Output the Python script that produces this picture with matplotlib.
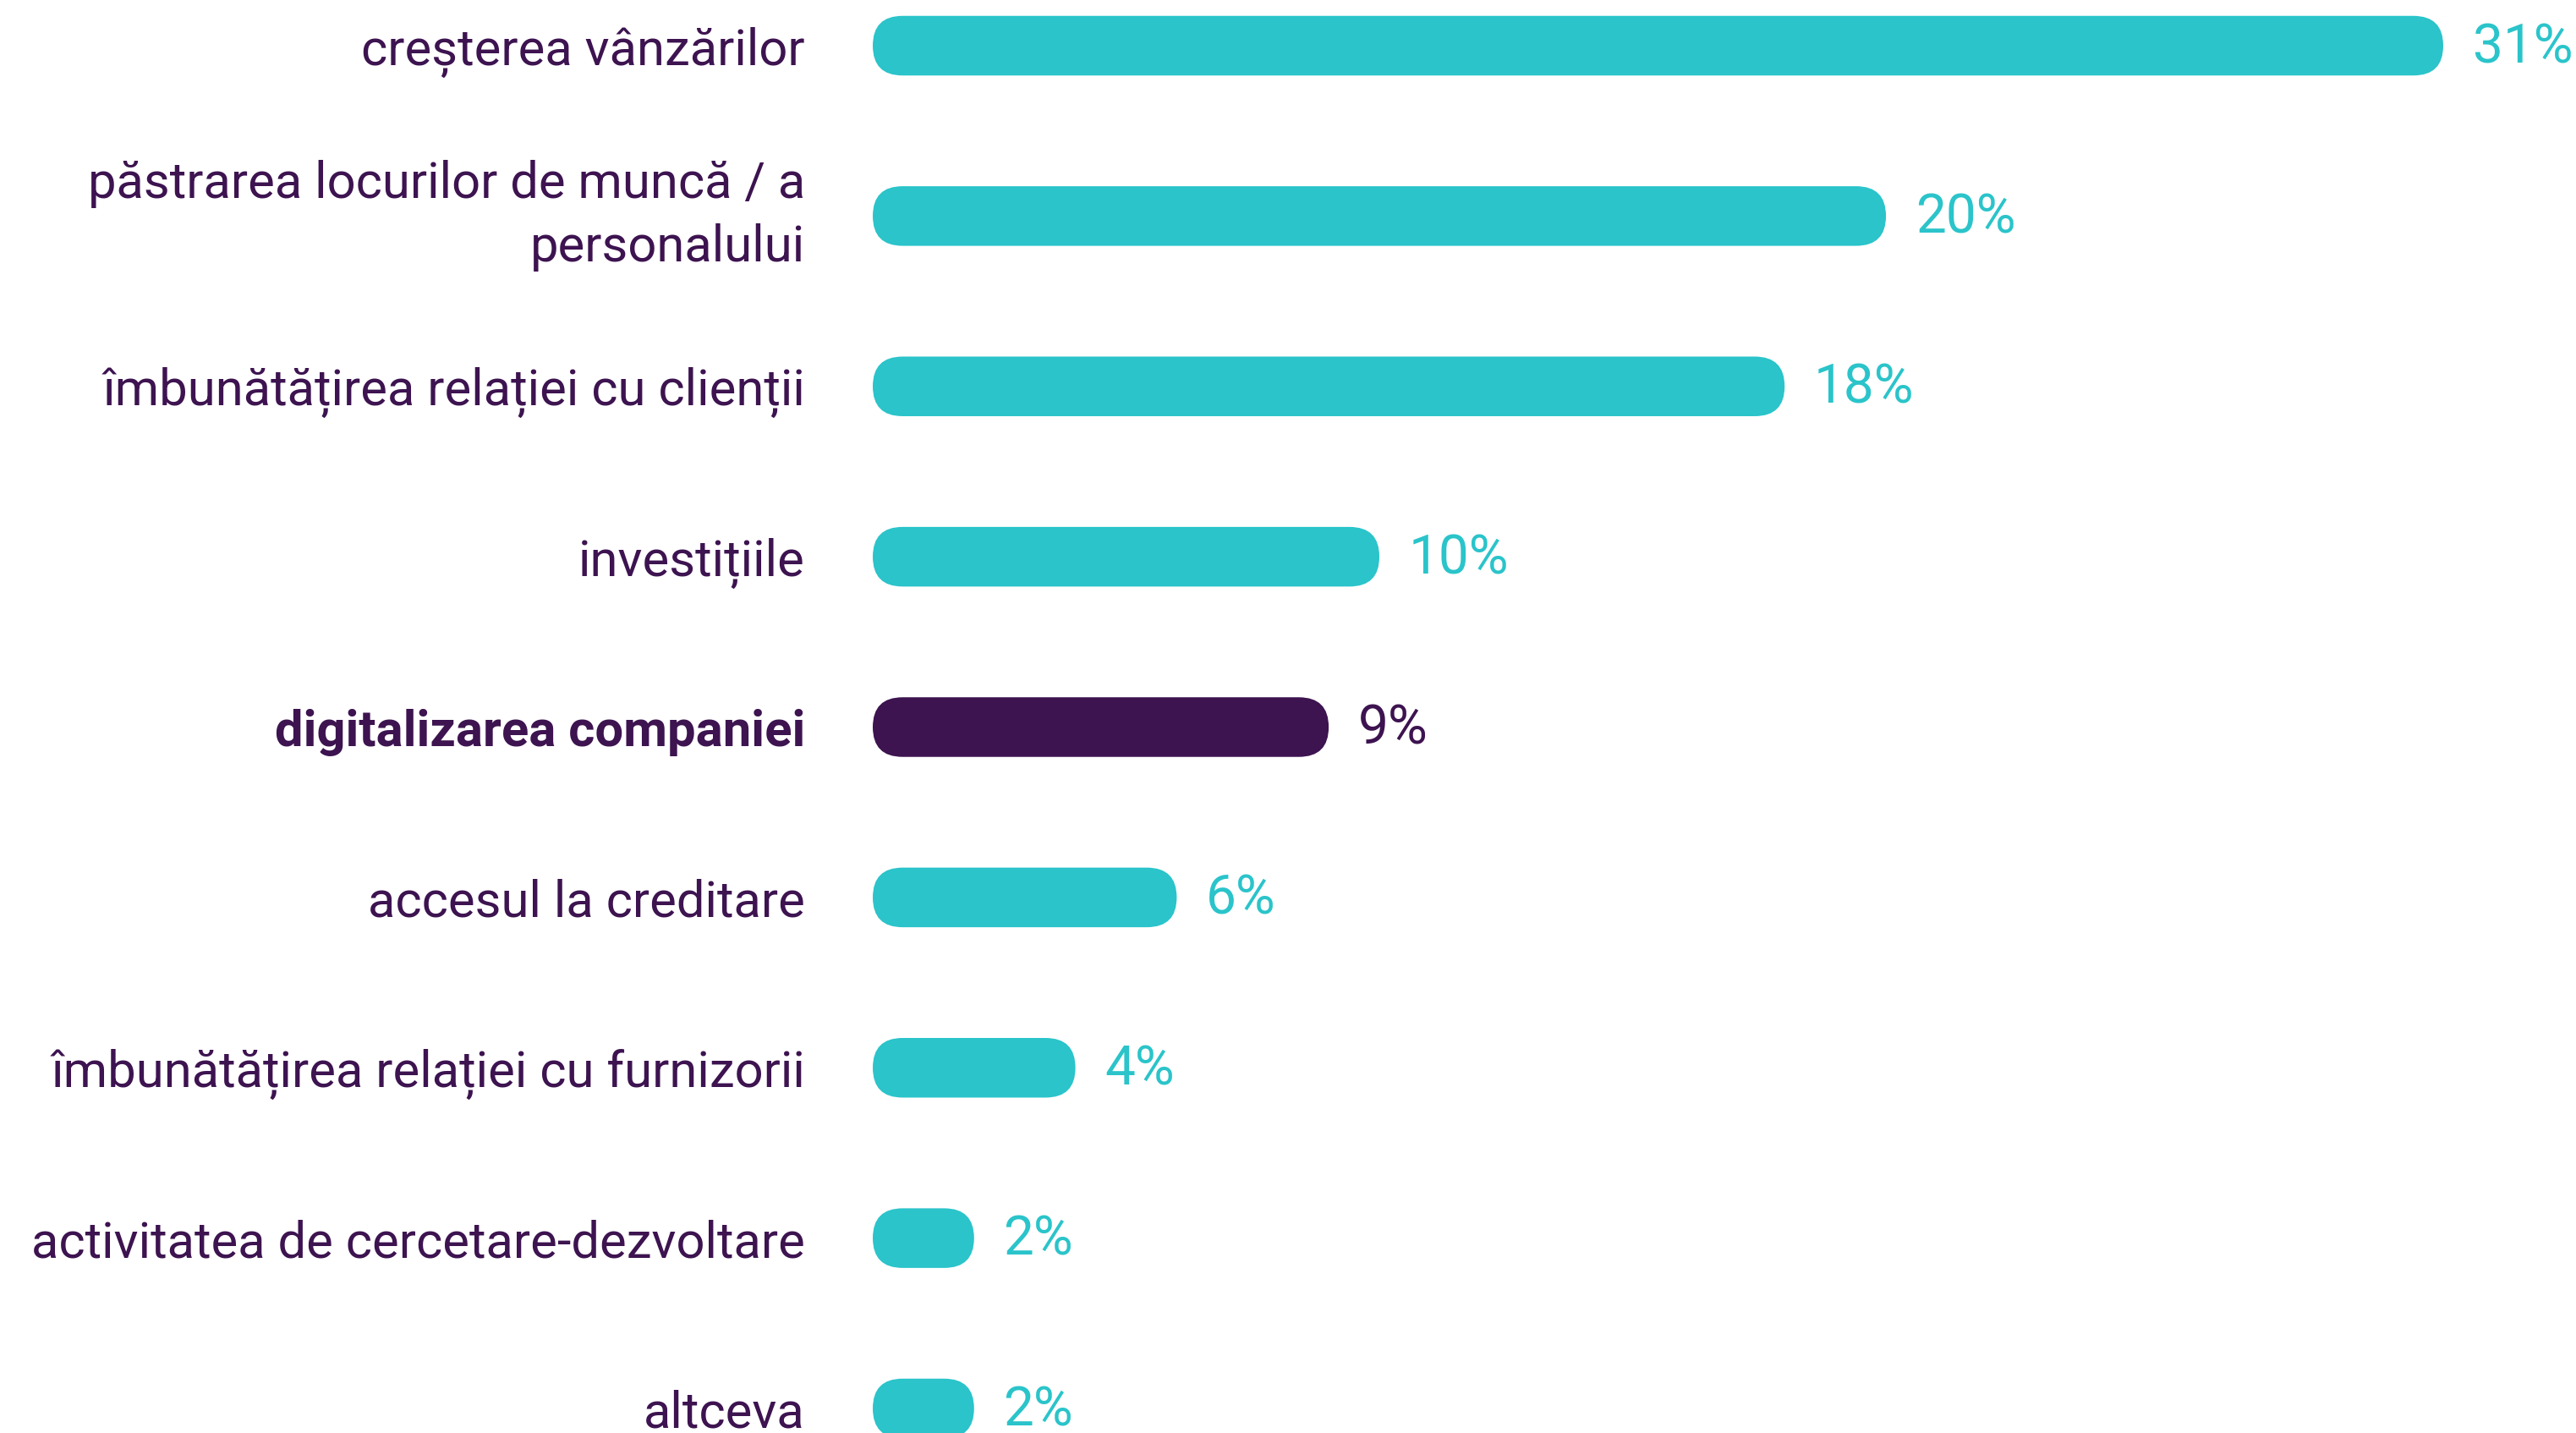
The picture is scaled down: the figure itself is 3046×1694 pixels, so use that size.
import matplotlib
matplotlib.use("Agg")
import matplotlib.pyplot as plt
from matplotlib.patches import FancyBboxPatch

categories = [
    "creșterea vânzărilor",
    "păstrarea locurilor de muncă / a\npersonalului",
    "îmbunătățirea relației cu clienții",
    "investițiile",
    "digitalizarea companiei",
    "accesul la creditare",
    "îmbunătățirea relației cu furnizorii",
    "activitatea de cercetare-dezvoltare",
    "altceva",
]
values = [31, 20, 18, 10, 9, 6, 4, 2, 2]
value_labels = ["31%", "20%", "18%", "10%", "9%", "6%", "4%", "2%", "2%"]
highlight = "digitalizarea companiei"

TEAL = "#2AC4CA"
PURPLE = "#3D1350"

W, H = 3046, 1694
fig = plt.figure(figsize=(W / 100, H / 100), dpi=100)
left_px = 1032
ax = fig.add_axes([left_px / W, 0, 1 - left_px / W, 1])
px_per_unit = (2889 - left_px) / 31
ax.set_xlim(0, (W - left_px) / px_per_unit)
slot = (1665 - 54) / 8
ax.set_ylim(len(categories) - 1 + (H - 1665) / slot, -54 / slot)

for s in ax.spines.values():
    s.set_visible(False)
ax.set_xticks([])
ax.set_yticks(range(len(categories)))
ax.set_yticklabels(categories)
ax.tick_params(axis="y", length=0, pad=57.6)
for lab in ax.get_yticklabels():
    lab.set_fontfamily(["Roboto", "DejaVu Sans"])
    lab.set_fontsize(43)
    lab.set_color(PURPLE)
    lab.set_linespacing(1.4)
    if "\n" in lab.get_text():
        lab.set_verticalalignment("center")
    if lab.get_text() == highlight:
        lab.set_fontweight("bold")
    else:
        lab.set_fontweight("normal")

# pixel scales for rounded caps
p0 = ax.transData.transform((0, 0))
p1 = ax.transData.transform((1, 1))
sx = abs(p1[0] - p0[0])
sy = abs(p1[1] - p0[1])
bar_h = 0.35
radius_x = bar_h * sy / 2 / sx
aspect = sx / sy

for i, (cat, v) in enumerate(zip(categories, values)):
    color = PURPLE if cat == highlight else TEAL
    patch = FancyBboxPatch(
        (0, i - bar_h / 2), v, bar_h,
        boxstyle=f"round,pad=0,rounding_size={radius_x}",
        mutation_aspect=aspect,
        facecolor=color, edgecolor="none",
    )
    ax.add_patch(patch)
    ax.annotate(
        value_labels[i], xy=(v, i), xytext=(25, -1.5), textcoords="offset points",
        ha="left", va="center", fontsize=46, color=color,
        fontfamily=["Roboto", "DejaVu Sans"],
    )

fig.savefig("out.png", dpi=100, facecolor="white")
